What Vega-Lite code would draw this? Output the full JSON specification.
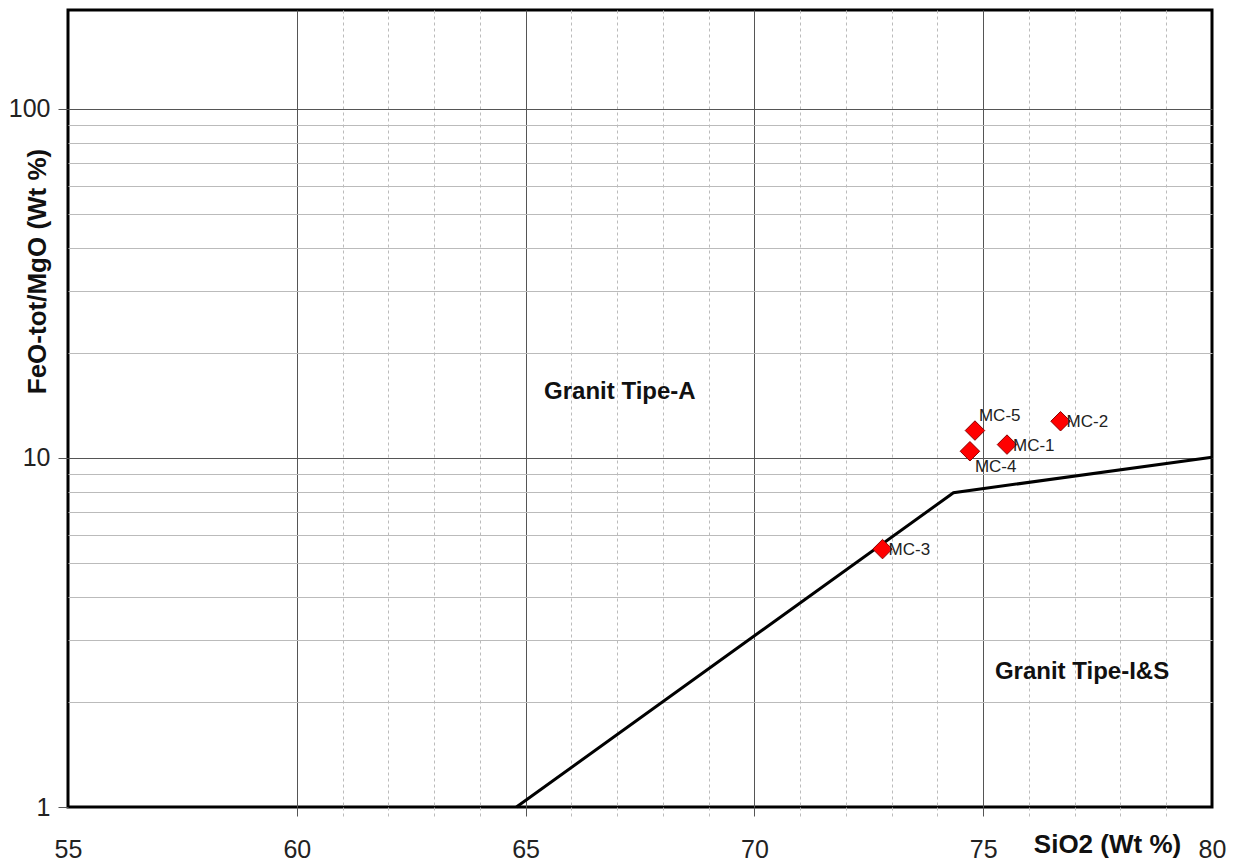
{
  "$schema": "https://vega.github.io/schema/vega-lite/v6.json",
  "width": 1144,
  "height": 797,
  "autosize": {"type": "none"},
  "padding": {"left": 68, "top": 10, "right": 21, "bottom": 56},
  "background": "white",
  "config": {
    "view": {"stroke": "#000", "strokeWidth": 3},
    "font": "Liberation Sans"
  },
  "datasets": {
    "boundary": [
      {"x": 64.8, "y": 1, "o": 1},
      {"x": 74.35, "y": 7.95, "o": 2},
      {"x": 80, "y": 10.05, "o": 3}
    ],
    "samples": [
      {"x": 75.52, "y": 10.92, "label": "MC-1"},
      {"x": 76.69, "y": 12.74, "label": "MC-2"},
      {"x": 72.8, "y": 5.48, "label": "MC-3"},
      {"x": 74.71, "y": 10.45, "label": "MC-4"},
      {"x": 74.82, "y": 11.98, "label": "MC-5"}
    ],
    "regions": [
      {"x": 67.06, "y": 15.4, "label": "Granit Tipe-A"},
      {"x": 77.16, "y": 2.44, "label": "Granit Tipe-I&S"}
    ]
  },
  "encoding": {
    "x": {
      "field": "x",
      "type": "quantitative",
      "scale": {"domain": [55, 80], "nice": false, "zero": false},
      "axis": {
        "title": "SiO2 (Wt %)",
        "titleFont": "Liberation Sans",
        "titleFontSize": 26,
        "titleFontWeight": "bold",
        "titleColor": "#111",
        "titleX": 1039,
        "titleY": 45,
        "titleAlign": "center",
        "titleBaseline": "alphabetic",
        "values": [55, 60, 61, 62, 63, 64, 65, 66, 67, 68, 69, 70, 71, 72, 73, 74, 75, 76, 77, 78, 79, 80],
        "labelExpr": "datum.value % 5 === 0 ? '' + datum.value : ''",
        "labelFont": "Liberation Sans",
        "labelFontSize": 25,
        "labelColor": "#222",
        "labelBaseline": "alphabetic",
        "labelPadding": 41,
        "labelOverlap": false,
        "labelBound": false,
        "labelFlush": false,
        "domain": false,
        "tickSize": 9,
        "tickColor": {"condition": {"test": "datum.value % 5 === 0", "value": "#555"}, "value": "#bbb"},
        "tickDash": {"condition": {"test": "datum.value % 5 === 0", "value": []}, "value": [3, 3]},
        "tickOpacity": {"condition": {"test": "datum.value === 55 || datum.value === 80", "value": 0}, "value": 1},
        "grid": true,
        "gridColor": {"condition": {"test": "datum.value % 5 === 0", "value": "#555"}, "value": "#bbb"},
        "gridDash": {"condition": {"test": "datum.value % 5 === 0", "value": []}, "value": [3, 3]},
        "gridOpacity": {"condition": {"test": "datum.value === 55 || datum.value === 80", "value": 0}, "value": 1},
        "gridWidth": 1
      }
    },
    "y": {
      "field": "y",
      "type": "quantitative",
      "scale": {"type": "log", "domain": [1, 192], "nice": false},
      "axis": {
        "title": "FeO-tot/MgO (Wt %)",
        "titleFont": "Liberation Sans",
        "titleFontSize": 26,
        "titleFontWeight": "bold",
        "titleColor": "#111",
        "titleAngle": 270,
        "titleX": -23,
        "titleY": 261,
        "titleAlign": "center",
        "titleBaseline": "alphabetic",
        "values": [1, 2, 3, 4, 5, 6, 7, 8, 9, 10, 20, 30, 40, 50, 60, 70, 80, 90, 100],
        "labelExpr": "datum.value === 1 || datum.value === 10 || datum.value === 100 ? '' + datum.value : ''",
        "labelFont": "Liberation Sans",
        "labelFontSize": 25,
        "labelColor": "#222",
        "labelPadding": 8,
        "labelOverlap": false,
        "labelBound": false,
        "labelFlush": false,
        "domain": false,
        "tickSize": 10,
        "tickColor": "#555",
        "tickOpacity": {"condition": {"test": "datum.value === 1 || datum.value === 10 || datum.value === 100", "value": 1}, "value": 0},
        "grid": true,
        "gridColor": {"condition": {"test": "datum.value === 10 || datum.value === 100", "value": "#555"}, "value": "#bbb"},
        "gridOpacity": {"condition": {"test": "datum.value === 1", "value": 0}, "value": 1},
        "gridWidth": 1
      }
    }
  },
  "layer": [
    {
      "data": {"name": "boundary"},
      "mark": {"type": "line", "color": "#000", "strokeWidth": 3},
      "encoding": {"order": {"field": "o", "type": "quantitative"}}
    },
    {
      "data": {"name": "samples"},
      "mark": {"type": "point", "shape": "diamond", "filled": true, "fill": "#ff0000", "stroke": "#8b0000", "strokeWidth": 1, "opacity": 1, "size": 380}
    },
    {
      "data": {"name": "samples"},
      "transform": [{"filter": "datum.label === 'MC-1' || datum.label === 'MC-2' || datum.label === 'MC-3'"}],
      "mark": {"type": "text", "align": "left", "baseline": "middle", "dx": 6, "dy": 1, "fontSize": 17, "font": "Liberation Sans", "color": "#222"},
      "encoding": {"text": {"field": "label"}}
    },
    {
      "data": {"name": "samples"},
      "transform": [{"filter": "datum.label === 'MC-5'"}],
      "mark": {"type": "text", "align": "left", "baseline": "middle", "dx": 4, "dy": -15, "fontSize": 17, "font": "Liberation Sans", "color": "#222"},
      "encoding": {"text": {"field": "label"}}
    },
    {
      "data": {"name": "samples"},
      "transform": [{"filter": "datum.label === 'MC-4'"}],
      "mark": {"type": "text", "align": "left", "baseline": "middle", "dx": 5, "dy": 16, "fontSize": 17, "font": "Liberation Sans", "color": "#222"},
      "encoding": {"text": {"field": "label"}}
    },
    {
      "data": {"name": "regions"},
      "mark": {"type": "text", "align": "center", "baseline": "middle", "fontSize": 24, "fontWeight": "bold", "font": "Liberation Sans", "color": "#111"},
      "encoding": {"text": {"field": "label"}}
    }
  ]
}
